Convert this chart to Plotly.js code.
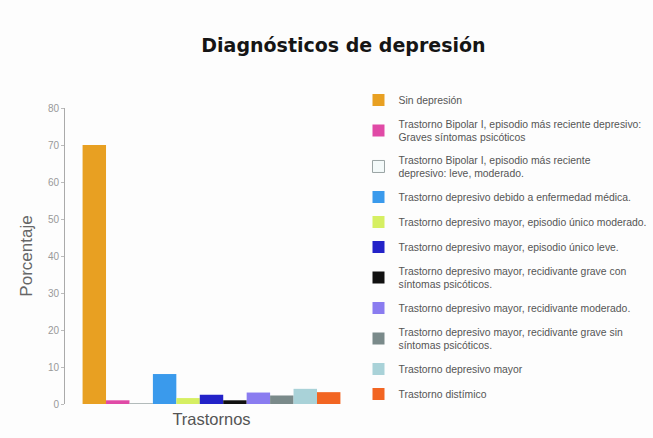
<!DOCTYPE html>
<html>
<head>
<meta charset="utf-8">
<script src="https://cdn.plot.ly/plotly-3.0.1.min.js"></script>
<style>
  html, body { margin: 0; padding: 0; background: #fdfdfd; }
  #chart { width: 653px; height: 438px; }
</style>
</head>
<body>
<div id="chart"></div>
<script>
// Diagnoses shown as one group of bars (one trace per diagnosis)
const category = ["Trastornos"];

const diagnoses = [
  "Sin depresión",
  "Trastorno Bipolar I, episodio más reciente depresivo:<br>Graves síntomas psicóticos",
  "Trastorno Bipolar I, episodio más reciente<br>depresivo: leve, moderado.",
  "Trastorno depresivo debido a enfermedad médica.",
  "Trastorno depresivo mayor, episodio único moderado.",
  "Trastorno depresivo mayor, episodio único leve.",
  "Trastorno depresivo mayor, recidivante grave con<br>síntomas psicóticos.",
  "Trastorno depresivo mayor, recidivante moderado.",
  "Trastorno depresivo mayor, recidivante grave sin<br>síntomas psicóticos.",
  "Trastorno depresivo mayor",
  "Trastorno distímico"
];

// Percentage of patients per diagnosis
const percentages = [70, 1, 0, 8.1, 1.6, 2.5, 1, 3.1, 2.3, 4.1, 3.2];

const barColors = [
  "#e8a022", "#e04aa6", "#f4fafa", "#3a9aec", "#d6ef62", "#2322c8",
  "#111111", "#8a7cf0", "#7a8a8a", "#a9d2d8", "#f26522"
];

const barLines = [
  "#e8a022", "#e04aa6", "#9aa4a4", "#3a9aec", "#d6ef62", "#2322c8",
  "#111111", "#8a7cf0", "#7a8a8a", "#a9d2d8", "#f26522"
];

const yTicks = [0, 10, 20, 30, 40, 50, 60, 70, 80];

const traces = diagnoses.map((name, i) => ({
  type: "bar",
  name: name,
  x: category,
  y: [percentages[i]],
  legendgroup: "g" + i,
  marker: { color: barColors[i], line: { color: barLines[i], width: i === 2 ? 1 : 0 } },
  hoverinfo: "name+y"
}));

const layout = {
  width: 653,
  height: 438,
  paper_bgcolor: "#fdfdfd",
  plot_bgcolor: "#fdfdfd",
  margin: { l: 65, r: 295, t: 108, b: 34 },
  title: {
    text: "<b>Diagnósticos de depresión</b>",
    font: { family: "DejaVu Sans, Verdana, sans-serif", size: 19, color: "#151515" },
    x: 0.526, xanchor: "center",
    y: 0.897, yanchor: "middle",
    xref: "container", yref: "container"
  },
  barmode: "group",
  bargap: 0.12,
  bargroupgap: 0,
  showlegend: true,
  xaxis: {
    showline: false,
    showgrid: false,
    zeroline: false,
    ticks: "",
    ticklabelstandoff: 3,
    tickfont: { family: "Liberation Sans, Arial, sans-serif", size: 16.5, color: "#555" }
  },
  yaxis: {
    range: [0, 80],
    tickvals: yTicks,
    ticktext: yTicks.map(String),
    showline: true,
    linecolor: "#aaaaaa",
    linewidth: 1,
    showgrid: false,
    zeroline: false,
    ticks: "outside",
    ticklen: 3,
    tickcolor: "#bbbbbb",
    tickfont: { family: "Liberation Sans Narrow, Liberation Sans, Arial, sans-serif", size: 10, color: "#999999" },
    title: {
      text: "Porcentaje",
      standoff: 10,
      font: { family: "Liberation Sans, Arial, sans-serif", size: 17, color: "#666" }
    }
  },
  legend: {
    xref: "container", yref: "container",
    x: 0.549, xanchor: "left",
    y: 0.805, yanchor: "top",
    traceorder: "grouped",
    tracegroupgap: 6,
    maxheight: 430,
    bgcolor: "rgba(0,0,0,0)",
    font: { family: "Liberation Sans Narrow, Liberation Sans, Arial, sans-serif", size: 10.4, color: "#555" },
    itemclick: false
  }
};

Plotly.newPlot("chart", traces, layout, { displayModeBar: false, staticPlot: true });
</script>
</body>
</html>
